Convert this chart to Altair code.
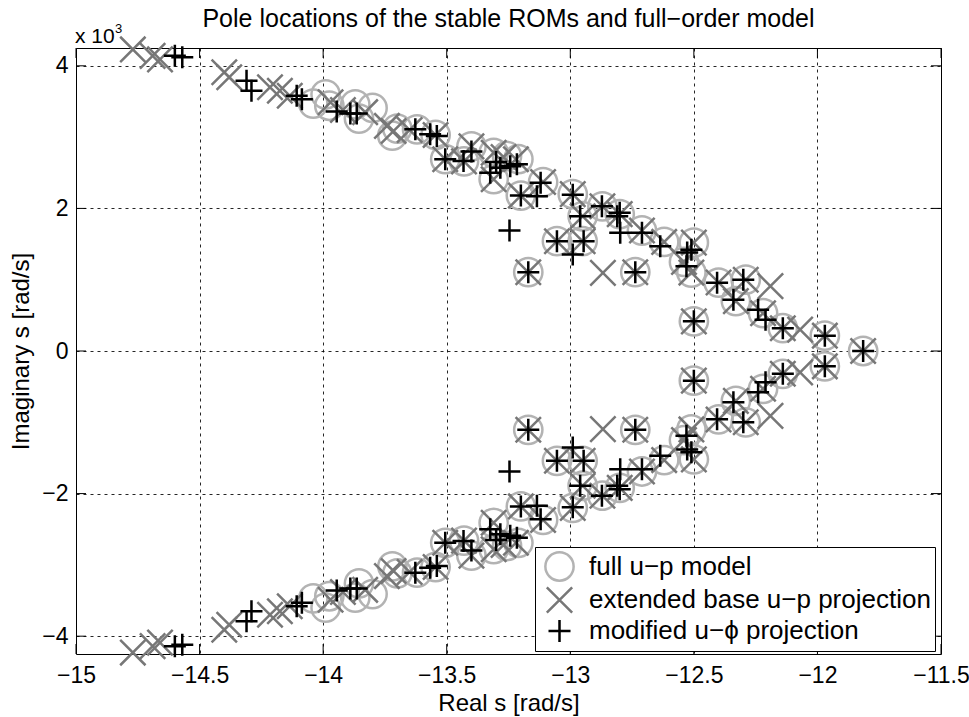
import altair as alt
import pandas as pd

# Pole locations in the upper half plane: real part [rad/s], imaginary part [10^3 rad/s].
# Poles come in complex-conjugate pairs, so the lower half is the mirror image.
full_re = [-14.04, -13.99, -13.975, -13.87, -13.855, -13.80, -13.72, -13.70, -13.62, -13.545,
           -13.506, -13.40, -13.43, -13.31, -13.256, -13.21, -13.31, -13.20, -13.11, -12.99,
           -12.95, -12.87, -12.80, -12.71, -12.62, -12.50, -12.54, -12.51, -12.40, -12.29,
           -12.33, -12.22, -12.14, -11.97, -12.50, -13.17, -12.737, -13.054, -12.95, -11.815]
full_im = [3.47, 3.60, 3.44, 3.46, 3.26, 3.41, 3.02, 3.12, 3.11, 3.03,
           2.69, 2.87, 2.66, 2.78, 2.735, 2.69, 2.41, 2.18, 2.37, 2.20,
           1.89, 2.03, 1.92, 1.69, 1.53, 1.52, 1.25, 1.10, 0.96, 1.00,
           0.70, 0.53, 0.32, 0.215, 0.416, 1.105, 1.105, 1.54, 1.54, 0.0]

ext_re = [-14.77, -14.69, -14.66, -14.40, -14.38, -14.215, -14.175, -14.135, -13.97, -13.92,
          -13.83, -13.742, -13.715, -13.65, -13.545, -13.506, -13.40, -13.43, -13.31, -13.27,
          -13.22, -13.31, -13.20, -13.11, -12.99, -12.95, -12.87, -12.80, -12.71, -12.62,
          -12.50, -12.54, -12.51, -12.40, -12.29, -12.19, -12.33, -12.22, -12.14, -12.07,
          -11.97, -12.50, -13.17, -12.868, -12.737, -13.054, -12.95, -11.815]
ext_im = [4.23, 4.14, 4.09, 3.91, 3.84, 3.70, 3.65, 3.58, 3.49, 3.38,
          3.35, 3.157, 3.086, 3.10, 3.03, 2.69, 2.87, 2.66, 2.78, 2.72,
          2.69, 2.41, 2.18, 2.37, 2.20, 1.89, 2.03, 1.92, 1.69, 1.53,
          1.52, 1.25, 1.10, 0.96, 1.00, 0.91, 0.70, 0.53, 0.32, 0.30,
          0.215, 0.416, 1.105, 1.096, 1.105, 1.54, 1.54, 0.0]

mod_re = [-14.60, -14.57, -14.31, -14.29, -14.107, -14.086, -13.945, -13.89, -13.864, -13.627,
          -13.567, -13.54, -13.506, -13.432, -13.40, -13.324, -13.283, -13.243, -13.216, -13.30,
          -13.246, -13.20, -13.12, -13.135, -12.99, -12.96, -12.872, -12.81, -12.80, -12.798,
          -12.71, -12.636, -12.51, -12.527, -12.53, -12.406, -12.30, -12.34, -12.24, -12.21,
          -12.14, -11.97, -11.815, -12.50, -13.17, -12.737, -13.054, -12.946, -12.99]
mod_im = [4.14, 4.12, 3.79, 3.65, 3.58, 3.53, 3.36, 3.33, 3.33, 3.11,
          3.04, 3.016, 2.69, 2.665, 2.80, 2.50, 2.57, 2.59, 2.62, 2.65,
          1.69, 2.18, 2.36, 2.17, 2.19, 1.89, 2.03, 1.89, 1.94, 1.658,
          1.66, 1.47, 1.42, 1.38, 1.19, 0.956, 1.00, 0.72, 0.58, 0.44,
          0.32, 0.215, 0.0, 0.416, 1.105, 1.105, 1.54, 1.54, 1.354]

x_ticks = [-15, -14.5, -14, -13.5, -13, -12.5, -12, -11.5]
y_ticks = [-4, -2, 0, 2, 4]

SERIES = ["full u\u2212p model", "extended base u\u2212p projection", "modified u\u2212\u03d5 projection"]
COLORS = ["#b3b3b3", "#777777", "#000000"]
SHAPES = ["circle", "M-1,-1L1,1M-1,1L1,-1", "M-1,0L1,0M0,-1L0,1"]
SIZES = [800, 484, 841]
WIDTHS = [2.5, 2.5, 2.8]

TITLE = "Pole locations of the stable ROMs and full\u2212order model"
FONT = "Liberation Sans"
W, H = 865, 606


def conjugate_rows(re, im, name):
    rows = []
    for r, i in zip(re, im):
        rows.append({"re": r, "im": i, "series": name})
        if i != 0:
            rows.append({"re": r, "im": -i, "series": name})
    return rows


rows = (conjugate_rows(full_re, full_im, SERIES[0])
        + conjugate_rows(ext_re, ext_im, SERIES[1])
        + conjugate_rows(mod_re, mod_im, SERIES[2]))
poles = pd.DataFrame(rows)

x_scale = alt.Scale(domain=[-15, -11.5], nice=False, zero=False)
y_scale = alt.Scale(domain=[-4.25, 4.25], nice=False, zero=False)

grid_kw = dict(grid=True, gridDash=[3, 4], gridColor="#000000", gridOpacity=0.85, gridWidth=1,
               ticks=False, domain=False, labelFont=FONT, labelColor="black",
               titleFont=FONT, titleColor="black", titleFontWeight="normal", labelFlush=False)

x_axis = alt.Axis(values=x_ticks, format=".1~f", title="Real s [rad/s]", labelFontSize=23,
                  labelPadding=10, titleFontSize=24, titlePadding=4, **grid_kw)
y_axis = alt.Axis(values=y_ticks, format="d", title="Imaginary s [rad/s]", labelFontSize=23,
                  labelPadding=8, titleFontSize=24, titlePadding=8, **grid_kw)


def X(field):
    return alt.X(f"{field}:Q", scale=x_scale, axis=x_axis)


def Y(field):
    return alt.Y(f"{field}:Q", scale=y_scale, axis=y_axis)


legend = alt.Legend(title=None, orient="none", legendX=459, legendY=499,
                    fillColor="white", strokeColor="black", padding=4,
                    symbolOffset=5, labelOffset=14, labelFontSize=26, labelFont=FONT,
                    labelColor="black", rowPadding=-4, labelLimit=600)

points = alt.Chart(poles).mark_point(filled=False, opacity=1).encode(
    x=X("re"),
    y=Y("im"),
    color=alt.Color("series:N", scale=alt.Scale(domain=SERIES, range=COLORS), legend=legend),
    shape=alt.Shape("series:N", scale=alt.Scale(domain=SERIES, range=SHAPES), legend=legend),
    size=alt.Size("series:N", scale=alt.Scale(domain=SERIES, range=SIZES), legend=legend),
    strokeWidth=alt.StrokeWidth("series:N", scale=alt.Scale(domain=SERIES, range=WIDTHS), legend=legend),
)

# Inward-pointing tick marks on all four sides of the box
xt = pd.DataFrame({"re": x_ticks})
yt = pd.DataFrame({"im": y_ticks})
tick_len = 10
ticks_bottom = alt.Chart(xt).mark_rule(color="black", strokeWidth=1).encode(
    x=X("re"), y=alt.value(H), y2=alt.value(H - tick_len))
ticks_top = alt.Chart(xt).mark_rule(color="black", strokeWidth=1).encode(
    x=X("re"), y=alt.value(0), y2=alt.value(tick_len))
ticks_left = alt.Chart(yt).mark_rule(color="black", strokeWidth=1).encode(
    y=Y("im"), x=alt.value(0), x2=alt.value(tick_len))
ticks_right = alt.Chart(yt).mark_rule(color="black", strokeWidth=1).encode(
    y=Y("im"), x=alt.value(W - tick_len), x2=alt.value(W))

# Axis multiplier "x 10^3" above the y axis
mult = alt.Chart(pd.DataFrame({"t": ["x 10"]})).mark_text(
    align="left", baseline="alphabetic", font=FONT, fontSize=21, color="black").encode(
    text="t:N", x=alt.value(-1), y=alt.value(-5))
mult_exp = alt.Chart(pd.DataFrame({"t": ["3"]})).mark_text(
    align="left", baseline="alphabetic", font=FONT, fontSize=13, color="black").encode(
    text="t:N", x=alt.value(39), y=alt.value(-15))

# Figure title, centred over the plot box
title = alt.Chart(pd.DataFrame({"t": [TITLE]})).mark_text(
    align="center", baseline="alphabetic", font=FONT, fontSize=25, color="black").encode(
    text="t:N", x=alt.value(W / 2), y=alt.value(-21))

chart = alt.layer(
    points, ticks_bottom, ticks_top, ticks_left, ticks_right, mult, mult_exp, title
).properties(
    width=W,
    height=H,
    autosize=alt.AutoSizeParams(type="none"),
    padding={"left": 76, "top": 48, "right": 28, "bottom": 63},
    background="white",
).configure_view(stroke="black", strokeWidth=1)

chart.save("out.html", embed_options={"renderer": "svg", "actions": False})
